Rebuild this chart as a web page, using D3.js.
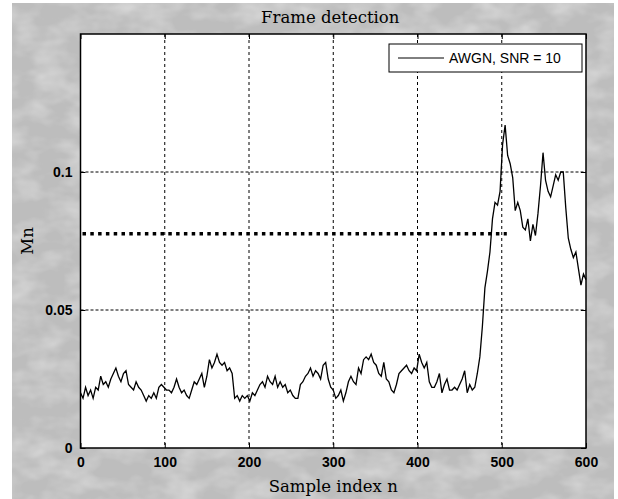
<!DOCTYPE html>
<html>
<head>
<meta charset="utf-8">
<script src="https://cdn.jsdelivr.net/npm/d3@7"></script>
<style>
  html, body { margin: 0; padding: 0; background: #fff; }
  svg { display: block; }
</style>
</head>
<body>
<div id="chart"></div>
<script>
// Mn, one value every 3 samples (n = 0, 3, ..., 600)
const mn = [
  0.020, 0.018, 0.022, 0.019, 0.021, 0.018, 0.022, 0.021, 0.026, 0.023,
  0.024, 0.022, 0.025, 0.027, 0.029, 0.026, 0.024, 0.027, 0.028, 0.023,
  0.022, 0.021, 0.024, 0.022, 0.021, 0.019, 0.017, 0.019, 0.018, 0.020,
  0.018, 0.022, 0.023, 0.022, 0.021, 0.021, 0.020, 0.022, 0.025, 0.022,
  0.020, 0.021, 0.019, 0.018, 0.021, 0.024, 0.023, 0.025, 0.027, 0.022,
  0.026, 0.032, 0.029, 0.031, 0.034, 0.031, 0.030, 0.031, 0.028, 0.029,
  0.027, 0.018, 0.019, 0.017, 0.019, 0.018, 0.019, 0.017, 0.020, 0.019,
  0.021, 0.023, 0.024, 0.022, 0.026, 0.024, 0.023, 0.026, 0.022, 0.024,
  0.022, 0.023, 0.020, 0.021, 0.019, 0.018, 0.018, 0.023, 0.024, 0.026,
  0.027, 0.029, 0.026, 0.028, 0.027, 0.025, 0.030, 0.031, 0.025, 0.022,
  0.021, 0.018, 0.019, 0.021, 0.017, 0.020, 0.024, 0.026, 0.024, 0.023,
  0.029, 0.027, 0.032, 0.033, 0.032, 0.034, 0.031, 0.030, 0.027, 0.026,
  0.031, 0.025, 0.024, 0.021, 0.020, 0.023, 0.027, 0.028, 0.029, 0.030,
  0.028, 0.027, 0.029, 0.028, 0.034, 0.031, 0.029, 0.031, 0.024, 0.022,
  0.022, 0.024, 0.027, 0.020, 0.023, 0.025, 0.021, 0.021, 0.022, 0.021,
  0.023, 0.025, 0.028, 0.020, 0.023, 0.021, 0.022, 0.027, 0.033, 0.044,
  0.058, 0.064, 0.071, 0.083, 0.089, 0.088, 0.093, 0.110, 0.117, 0.106,
  0.103, 0.098, 0.086, 0.089, 0.086, 0.080, 0.079, 0.083, 0.075, 0.081,
  0.077, 0.085, 0.095, 0.107, 0.097, 0.093, 0.091, 0.095, 0.099, 0.097,
  0.100, 0.100, 0.087, 0.076, 0.072, 0.069, 0.071, 0.065, 0.059, 0.063,
  0.061
];
const sampleIdx = mn.map((d, i) => i * 3);

const xTicks = [0, 100, 200, 300, 400, 500, 600];
const yTicks = [0, 0.05, 0.1];
const thresholdLevel = 0.0776;
const thresholdEnd = 506;
const legendLabel = "AWGN, SNR = 10";

const width = 618,
    height = 499,
    margin = {top: 34, right: 32, bottom: 51, left: 80.5};

const x = d3.scaleLinear()
    .domain([0, 600])
    .range([margin.left, width - margin.right]);

const y = d3.scaleLinear()
    .domain([0, 0.15])
    .range([height - margin.bottom, margin.top]);

const svg = d3.select("#chart").append("svg")
    .attr("width", width)
    .attr("height", height);

// mottled grey background like the scanned figure (white strip left and top)
const defs = svg.append("defs");
const filt = defs.append("filter").attr("id", "grain")
    .attr("x", 0).attr("y", 0).attr("width", "100%").attr("height", "100%");
filt.append("feTurbulence")
    .attr("type", "fractalNoise")
    .attr("baseFrequency", "0.03 0.05")
    .attr("numOctaves", 3)
    .attr("seed", 7);
filt.append("feColorMatrix")
    .attr("type", "matrix")
    .attr("values", "0 0 0 0 1  0 0 0 0 1  0 0 0 0 1  0 0 0 -1.6 1.0");

svg.append("rect")
    .attr("x", 12).attr("y", 3)
    .attr("width", width - 16).attr("height", height - 3)
    .attr("fill", "#bdbdbd");
svg.append("rect")
    .attr("x", 12).attr("y", 3)
    .attr("width", width - 16).attr("height", height - 3)
    .attr("fill", "#fff")
    .attr("filter", "url(#grain)")
    .attr("opacity", 0.45);

const x0 = x.range()[0], x1 = x.range()[1],
    y0 = y.range()[0], y1 = y.range()[1];

svg.append("rect")
    .attr("x", x0).attr("y", y1)
    .attr("width", x1 - x0).attr("height", y0 - y1)
    .attr("fill", "#fff");

// grid
svg.append("g")
    .selectAll("line")
    .data(xTicks.slice(1, -1))
  .enter().append("line")
    .attr("x1", d => x(d)).attr("x2", d => x(d))
    .attr("y1", y1).attr("y2", y0)
    .attr("stroke", "#000")
    .attr("stroke-dasharray", "3,3");

svg.append("g")
    .selectAll("line")
    .data(yTicks.slice(1))
  .enter().append("line")
    .attr("x1", x0).attr("x2", x1)
    .attr("y1", d => y(d)).attr("y2", d => y(d))
    .attr("stroke", "#000")
    .attr("stroke-dasharray", "3,2");

// threshold
svg.append("line")
    .attr("x1", x(0) + 2).attr("x2", x(thresholdEnd))
    .attr("y1", y(thresholdLevel)).attr("y2", y(thresholdLevel))
    .attr("stroke", "#000")
    .attr("stroke-width", 3.5)
    .attr("stroke-dasharray", "3.5,4.3");

// signal
const line = d3.line()
    .x((d, i) => x(sampleIdx[i]))
    .y(d => y(d));

svg.append("path")
    .datum(mn)
    .attr("d", line)
    .attr("fill", "none")
    .attr("stroke", "#000")
    .attr("stroke-width", 1.3)
    .attr("stroke-linejoin", "miter");

// axes, ticks pointing inwards on all four sides
const tickFont = "bold 14px 'Liberation Sans', Arial, sans-serif";

svg.append("g")
    .attr("transform", "translate(0," + y0 + ")")
    .call(d3.axisBottom(x).tickValues(xTicks).tickSizeInner(-5).tickSizeOuter(0).tickPadding(9));
svg.append("g")
    .attr("transform", "translate(" + x0 + ",0)")
    .call(d3.axisLeft(y).tickValues(yTicks).tickFormat(d => String(d)).tickSizeInner(-5).tickSizeOuter(0).tickPadding(8));
svg.append("g")
    .attr("transform", "translate(0," + y1 + ")")
    .call(d3.axisTop(x).tickValues(xTicks).tickSizeInner(-5).tickSizeOuter(0).tickFormat(""));
svg.append("g")
    .attr("transform", "translate(" + x1 + ",0)")
    .call(d3.axisRight(y).tickValues(yTicks).tickSizeInner(-5).tickSizeOuter(0).tickFormat(""));

svg.selectAll(".domain").remove();
svg.selectAll(".tick line").attr("stroke", "#000");
svg.selectAll(".tick text")
    .style("font", tickFont)
    .attr("fill", "#000");

svg.append("rect")
    .attr("x", x0).attr("y", y1)
    .attr("width", x1 - x0).attr("height", y0 - y1)
    .attr("fill", "none")
    .attr("stroke", "#000")
    .attr("stroke-width", 1.5);

// titles
const labelFont = "16.5px 'DejaVu Serif', serif";

svg.append("text")
    .attr("x", (x0 + x1) / 2 - 3)
    .attr("y", 23)
    .attr("text-anchor", "middle")
    .style("font", labelFont)
    .text("Frame detection");

svg.append("text")
    .attr("x", (x0 + x1) / 2)
    .attr("y", 492)
    .attr("text-anchor", "middle")
    .style("font", labelFont)
    .text("Sample index n");

svg.append("text")
    .attr("transform", "translate(33," + ((y0 + y1) / 2) + ") rotate(-90)")
    .attr("text-anchor", "middle")
    .style("font", labelFont)
    .text("Mn");

// legend
const legend = svg.append("g").attr("transform", "translate(389,44)");
legend.append("rect")
    .attr("width", 193).attr("height", 28)
    .attr("fill", "#fff")
    .attr("stroke", "#000");
legend.append("line")
    .attr("x1", 9).attr("x2", 55)
    .attr("y1", 14).attr("y2", 14)
    .attr("stroke", "#000");
legend.append("text")
    .attr("x", 60).attr("y", 19)
    .style("font", "14px 'Liberation Sans', Arial, sans-serif")
    .text(legendLabel);
</script>
</body>
</html>
